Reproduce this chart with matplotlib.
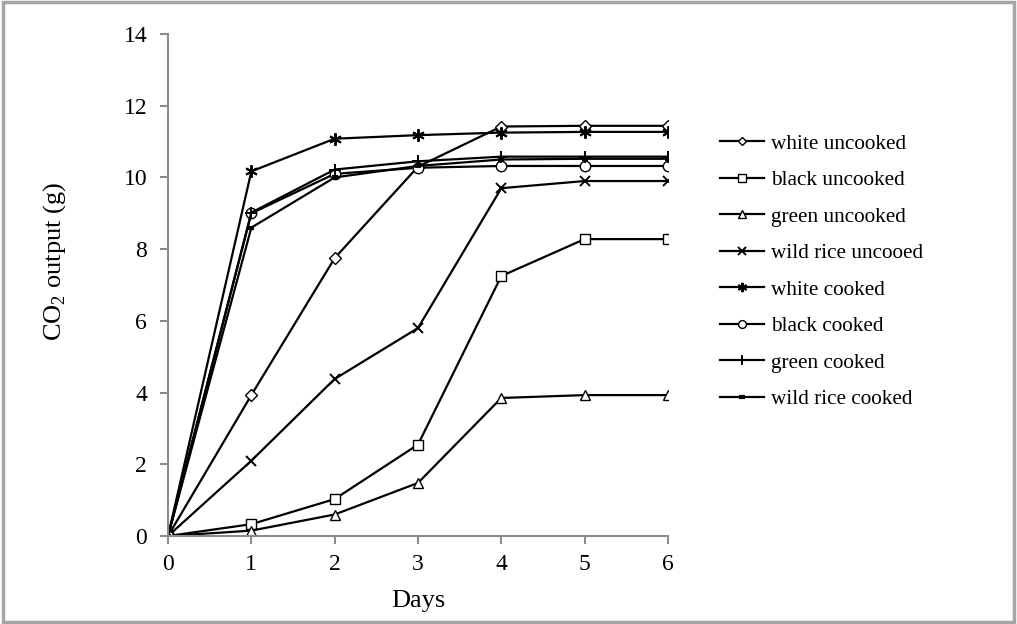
import matplotlib
matplotlib.use("Agg")
import matplotlib.pyplot as plt
from matplotlib.patches import Rectangle

plt.rcParams['font.family'] = ['Liberation Serif', 'DejaVu Serif']
plt.rcParams['mathtext.fontset'] = 'custom'
plt.rcParams['mathtext.rm'] = 'Liberation Serif'

days = [0, 1, 2, 3, 4, 5, 6]

white_uncooked = [0, 3.93, 7.75, 10.30, 11.42, 11.44, 11.44]
black_uncooked = [0, 0.33, 1.03, 2.55, 7.25, 8.28, 8.28]
green_uncooked = [0, 0.15, 0.60, 1.48, 3.85, 3.93, 3.93]
wild_uncooked = [0, 2.10, 4.38, 5.80, 9.70, 9.90, 9.90]
white_cooked = [0, 10.17, 11.08, 11.18, 11.25, 11.27, 11.27]
black_cooked = [0, 9.00, 10.10, 10.27, 10.32, 10.32, 10.32]
green_cooked = [0, 9.02, 10.22, 10.45, 10.58, 10.58, 10.58]
wild_cooked = [0, 8.60, 10.00, 10.32, 10.50, 10.52, 10.52]

series = [
    ("white uncooked", white_uncooked, dict(marker='D', markersize=6, markerfacecolor='white')),
    ("black uncooked", black_uncooked, dict(marker='s', markersize=7.5, markerfacecolor='white')),
    ("green uncooked", green_uncooked, dict(marker='^', markersize=7.5, markerfacecolor='white')),
    ("wild rice uncooed", wild_uncooked, dict(marker='x', markersize=7.5, markeredgewidth=1.4)),
    ("white cooked", white_cooked, dict(marker=(6, 2, 0), markersize=9, markeredgewidth=1.4)),
    ("black cooked", black_cooked, dict(marker='o', markersize=7.5, markerfacecolor='white')),
    ("green cooked", green_cooked, dict(marker='+', markersize=9, markeredgewidth=1.4)),
    ("wild rice cooked", wild_cooked, dict(marker='_', markersize=5, markeredgewidth=3)),
]

fig = plt.figure(figsize=(10.17, 6.24), dpi=100)
ax = fig.add_axes([0.1652, 0.141, 0.4916, 0.8045])

for label, vals, style in series:
    ax.plot(days, vals, color='black', linewidth=1.6, label=label,
            markeredgecolor='black', **style)

ax.set_xlim(0, 6)
ax.set_ylim(0, 14)
ax.set_xticks(range(0, 7))
ax.set_yticks(range(0, 15, 2))
for side in ('top', 'right'):
    ax.spines[side].set_visible(False)
for side in ('left', 'bottom'):
    ax.spines[side].set_color('#8c8c8c')
    ax.spines[side].set_linewidth(1.5)
ax.tick_params(axis='both', direction='out', length=6, width=1.5,
               color='#8c8c8c', labelsize=17, pad=9)
ax.tick_params(axis='x', pad=7)
ax.set_xlabel("Days", fontsize=19)
ax.xaxis.set_label_coords(0.5, -0.108)
ax.set_ylabel(r"CO$_2$ output (g)", fontsize=19)
ax.yaxis.set_label_coords(-0.2, 0.546)

leg = fig.legend(loc='upper left', bbox_to_anchor=(0.689, 0.816), frameon=False,
                 fontsize=15.3, handlelength=2.1, handletextpad=0.33,
                 labelspacing=0.78, markerscale=0.75)

fig.patches.append(Rectangle((0.003, 0.004), 0.994, 0.992, transform=fig.transFigure,
                             fill=False, edgecolor='#a6a6a6', linewidth=2.5))

fig.savefig("out.png", dpi=100)
